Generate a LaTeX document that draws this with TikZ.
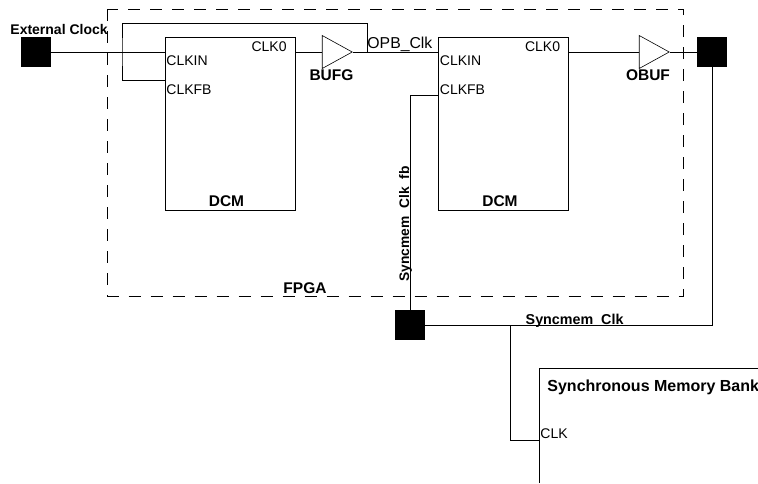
\documentclass[tikz,border=0pt]{standalone}
\usepackage{fontspec}
\setmainfont{Liberation Sans}
\usetikzlibrary{shapes.geometric}
\tikzset{
  pad/.style={draw,fill=black,minimum size=29pt,inner sep=0pt},
  dcmbox/.style={draw,minimum width=130pt,minimum height=172.5pt,inner sep=0pt},
  bufr/.style={draw,line width=0.6pt,isosceles triangle,isosceles triangle stretches,shape border rotate=0,
    minimum width=33pt,minimum height=30pt,inner sep=0pt,anchor=apex},
  lbl/.style={inner sep=0pt,font=\fontsize{14}{16}\selectfont},
  blbl/.style={inner sep=0pt,font=\fontsize{15.5}{18}\selectfont\bfseries},
}
\begin{document}
\begin{tikzpicture}[x=1pt,y=-1pt,line width=0.85pt,line cap=butt]
  \useasboundingbox (0,0) rectangle (758,483);
  % FPGA boundary
  \draw[dash pattern=on 12pt off 10pt] (107.5,9) rectangle (683.5,296);
  \node[blbl,anchor=base] (fpga) at (305,293) {FPGA};

  % pads
  \node[pad] (extpad) at (35.5,52) {};
  \node[pad] (outpad) at (712,52) {};
  \node[pad] (fbpad) at (410,325.3) {};
  \node[lbl,font=\fontsize{14}{16}\selectfont\bfseries,anchor=base west] (extlbl) at (10,34) {External Clock};

  % the two DCM blocks
  \foreach \n/\x in {a/230,b/503.5}
    {
      \node[dcmbox] (dcm\n) at (\x,123.75) {};
      \node[lbl,anchor=base west] (clkin\n) at (\x-64,65.3) {CLKIN};
      \node[lbl,anchor=base west] (clkfb\n) at (\x-64,94.3) {CLKFB};
      \node[lbl,anchor=base east] (clko\n) at (\x+57,51) {CLK0};
      \node[blbl,anchor=base] (name\n) at (\x-3.5,206.7) {DCM};
      \coordinate (in\n) at (\x-65,52);
      \coordinate (fb\n) at (\x-65,80);
      \coordinate (out\n) at (\x+65,52);
    }
  \coordinate (fbb) at (438.5,95);

  % buffers
  \node[bufr] (bufg) at (353,52) {};
  \node[bufr] (obuf) at (670,52) {};
  \node[blbl,anchor=base] (bufglbl) at (331.5,80.7) {BUFG};
  \node[blbl,anchor=base] (obuflbl) at (648,80.7) {OBUF};

  % clock nets
  \coordinate (split) at (122,52);
  \coordinate (tap) at (367,52);
  \draw (extpad.east) -- (ina);
  \draw (outa) -- (bufg.lower side);
  \draw (bufg.apex) -- (inb);
  \draw (outb) -- (obuf.lower side);
  \draw (obuf.apex) -- (outpad.west);
  \draw (fba) -- (split |- fba) -- (split |- tap) -- (122,23) -- (367,23) -- (tap);
  \node[lbl,font=\fontsize{15.8}{18}\selectfont,anchor=base west] (opblbl) at (367,48.7) {OPB\_Clk};

  % feedback from the board
  \draw (fbb) -- (fbpad |- fbb) -- (fbpad.north);
  \node[lbl,font=\fontsize{13.8}{16}\selectfont\bfseries,rotate=90,anchor=base west] (fblbl) at (409,282) {Syncmem\_Clk\_fb};
  \coordinate (branch) at (510.7,325.3);
  \coordinate (memclk) at (539.3,440);
  \draw (outpad.south) -- (outpad |- fbpad) -- (fbpad.east);
  \draw (branch) -- (branch |- memclk) -- (memclk);
  \node[lbl,font=\fontsize{14.3}{16}\selectfont\bfseries,anchor=base west] (synclbl) at (525.3,324.3) {Syncmem\_Clk};

  % memory bank, cut off by the page
  \draw (758,368) -- (539.3,368) -- (539.3,483);
  \node[blbl,font=\fontsize{16}{18}\selectfont\bfseries,anchor=base west] (memlbl) at (547,391) {Synchronous Memory Bank};
  \node[lbl,anchor=base west] (clklbl) at (540,438) {CLK};
\end{tikzpicture}
\end{document}
